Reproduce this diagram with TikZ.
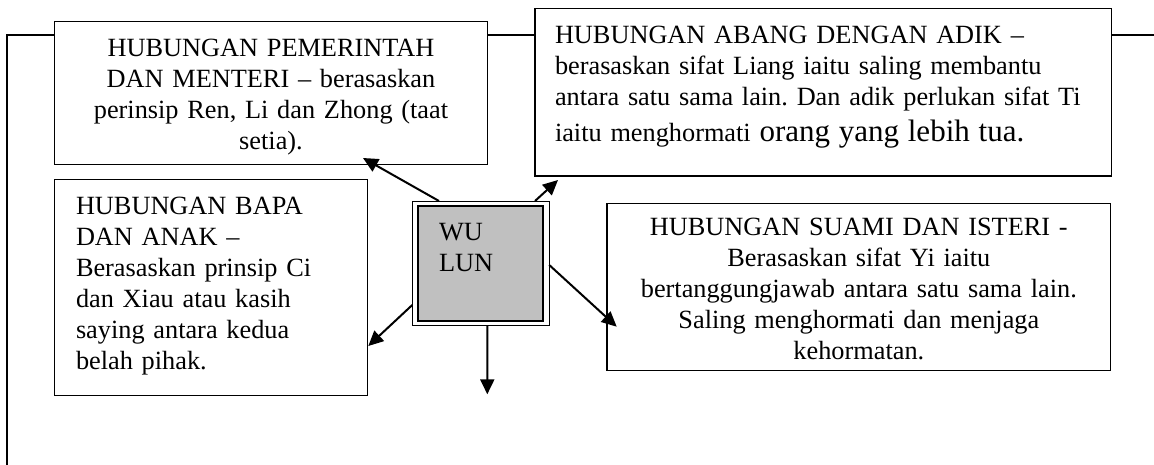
\documentclass[tikz,border=0pt]{standalone}
\usepackage{fontspec}
\setmainfont{Liberation Serif}
\usetikzlibrary{arrows.meta,calc}
\definecolor{wlgray}{RGB}{192,192,192}
\frenchspacing
\begin{document}
\begin{tikzpicture}[x=1pt,y=-1pt,
  bodyfont/.style={font=\fontsize{26.3}{31}\selectfont},
  box/.style={draw, line width=1.3pt, fill=white, rectangle, anchor=north west,
    inner ysep=0pt, outer sep=0pt, bodyfont},
  arr/.style={line width=2pt, -{Triangle[length=15pt,width=14pt]}},
]
\useasboundingbox (0,0) rectangle (1154,464);
% outer frame line
\coordinate (frameBL) at (7,480);
\coordinate (frameTR) at (1170,35);
\draw[line width=1.5pt] (frameBL) |- (frameTR);

% boxes
\node[box, inner xsep=10pt, text width=412.6pt, align=center,
  text height=34.7pt, text depth=108.7pt] (box1) at (54.7,21.3)
  {HUBUNGAN PEMERINTAH\\ DAN MENTERI – berasaskan\\ perinsip Ren, Li dan Zhong (taat\\ setia).};

\node[box, inner xsep=20pt, text width=536.3pt, align=left,
  text height=35pt, text depth=132.7pt] (box2) at (535,8.3)
  {HUBUNGAN ABANG DENGAN ADIK –\\ berasaskan sifat Liang iaitu saling membantu\\ antara satu sama lain. Dan adik perlukan sifat Ti\\[5pt] iaitu menghormati {\fontsize{31}{36}\selectfont orang yang lebih tua.}};

\node[box, inner xsep=21.5pt, text width=269.8pt, align=left,
  text height=34.5pt, text depth=181.7pt] (box3) at (54.5,179.5)
  {HUBUNGAN BAPA\\ DAN ANAK –\\ Berasaskan prinsip Ci\\ dan Xiau atau kasih\\ saying antara kedua\\ belah pihak.};

\node[box, inner xsep=10pt, text width=483.7pt, align=center,
  text height=31.7pt, text depth=135.7pt] (box4) at (607,203.3)
  {HUBUNGAN SUAMI DAN ISTERI -\\ Berasaskan sifat Yi iaitu\\ bertanggungjawab antara satu sama lain.\\ Saling menghormati dan menjaga\\ kehormatan.};

% WU LUN double-framed box
\node[draw, line width=1pt, fill=white, minimum width=136.9pt, minimum height=124.7pt,
  inner sep=0pt, outer sep=0pt, anchor=north west] (wulunframe) at (412.3,201) {};
\node[draw, line width=2.4pt, fill=wlgray, anchor=north west, inner xsep=21pt, inner ysep=0pt,
  outer sep=0pt, text width=83pt, align=left, text height=34.7pt, text depth=80pt, bodyfont]
  (wulun) at (418,206) {WU\\LUN};

% connectors
\coordinate (down) at (487.3,394.3);
\draw[arr] ([xshift=26.7pt]wulunframe.north west) -- ([xshift=92pt,yshift=6.7pt]box1.south);
\draw[arr] ([xshift=-14.2pt]wulunframe.north east) -- ([xshift=23pt,yshift=-4pt]box2.south west);
\draw[arr] ([yshift=-1.6pt]wulunframe.east) -- ([xshift=9.7pt,yshift=-39.7pt]box4.west);
\draw[arr] ([yshift=-41.6pt]wulunframe.west) -- ([xshift=1pt,yshift=-58.4pt]box3.east);
\draw[arr] ([xshift=6.5pt]wulunframe.south) -- (down);
\end{tikzpicture}
\end{document}
